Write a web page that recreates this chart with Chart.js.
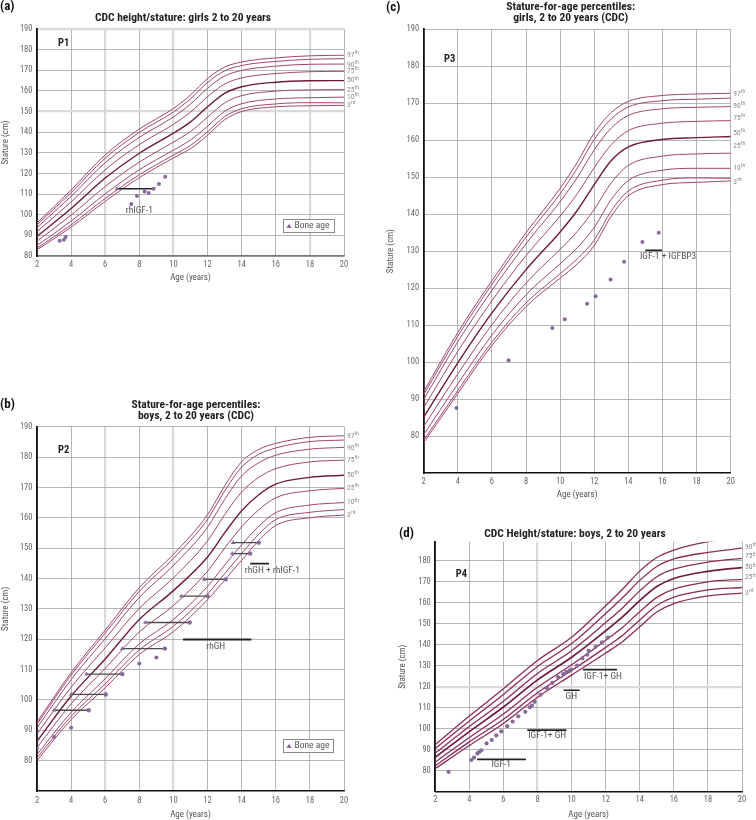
<!DOCTYPE html>
<html lang="en">
<head>
  <meta charset="utf-8">
  <title>Stature-for-age growth charts</title>
  <script src="https://cdn.jsdelivr.net/npm/chart.js@4.4.1/dist/chart.umd.min.js"></script>
  <style>
    body { margin: 0; background: #fff; width: 756px; height: 820px; position: relative; overflow: hidden; }
    .panel { position: absolute; }
  </style>
</head>
<body>
<div class="panel" style="left:0;top:0;width:378px;height:290px;"><canvas id="chartA"></canvas></div>
<div class="panel" style="left:0;top:380px;width:378px;height:440px;"><canvas id="chartB"></canvas></div>
<div class="panel" style="left:378px;top:0;width:378px;height:500px;"><canvas id="chartC"></canvas></div>
<div class="panel" style="left:378px;top:515px;width:378px;height:305px;"><canvas id="chartD"></canvas></div>
<script>
// ---- (a) CDC girls, patient P1 ----
var agesA = [2, 4, 6, 8, 10, 11, 12, 13, 14, 16, 18, 20];
var a97 = [96, 112, 129, 141.5, 151.5, 158, 166, 171.5, 174, 176, 177, 177.3];
var a95 = [95.1, 110.7, 127.4, 139.9, 149.8, 156.2, 164.1, 169.7, 172.3, 174.3, 175.3, 175.6];
var a90 = [93.8, 108.9, 125.2, 137.5, 147.4, 153.6, 161.3, 167.2, 169.9, 172, 172.9, 173];
var a75 = [91.8, 106.2, 121.8, 134, 143.8, 149.7, 157.2, 163.3, 166.3, 168.4, 169.3, 169.5];
var a50 = [89.5, 103, 117.8, 129.8, 139.5, 145, 152.3, 158.8, 162, 164.2, 164.9, 165];
var a25 = [87.2, 99.8, 113.7, 125.5, 135.2, 140.3, 147.3, 154.2, 157.7, 159.9, 160.5, 160.6];
var a10 = [85.1, 96.9, 110.1, 121.8, 131.3, 136.2, 142.9, 150.1, 153.8, 156.1, 156.7, 157];
var a05 = [83.8, 95.1, 107.9, 119.4, 128.9, 133.6, 140.2, 147.5, 151.4, 153.7, 154.3, 154.2];
var a03 = [83, 94, 106.5, 118, 127.5, 132, 138.5, 146, 150, 152.3, 152.8, 153];
var aDotAge = [3.33, 3.58, 3.68, 7.53, 7.86, 8.31, 8.55, 8.84, 9.15, 9.52];
var aDotH = [87.4, 87.9, 89.2, 105.2, 109.1, 111.2, 110.5, 112.6, 114.9, 118.4];
var aBoneAge = [6.69];
var aChronoAge = [8.84];
var aSegH = [112.6];

// ---- (b) CDC boys, patient P2 ----
var agesB = [2, 4, 6, 8, 10, 12, 13, 14, 15, 16, 18, 20];
var b97 = [92.7, 109, 123, 137, 148, 161, 170.5, 178.5, 182.5, 184.5, 186.5, 187];
var b95 = [92, 108.2, 122, 135.8, 146.6, 159.5, 168.8, 176.7, 180.9, 183, 185.1, 185.6];
var b90 = [90.8, 106.7, 120.2, 133.8, 144.3, 156.9, 166, 173.8, 178.1, 180.6, 182.6, 183.2];
var b75 = [88.8, 104.2, 117.2, 130.2, 140.2, 152.4, 161, 168.5, 173.3, 176.2, 178.4, 179];
var b50 = [86.4, 101.3, 113.5, 126.5, 136, 147.1, 155, 162.3, 167.6, 171.1, 173.3, 174];
var b25 = [84.3, 98.7, 110.4, 122.4, 131.1, 142.4, 150, 157, 162.6, 166.6, 168.9, 169.7];
var b10 = [82, 95.9, 107, 118.5, 126.5, 137.4, 144.4, 151.1, 157.2, 161.7, 164.2, 165];
var b05 = [80.9, 94.6, 105.3, 116.5, 124.3, 134.9, 141.6, 148.2, 154.6, 159.4, 161.8, 162.7];
var b03 = [80, 93.5, 104, 115, 122.5, 133, 139.5, 146, 152.5, 157.5, 160, 160.9];
var bDotAge = [2.0, 3.0, 4.0, 8.0, 9.0];
var bDotH = [84.0, 87.8, 90.8, 112.0, 114.0];
var bBoneAge = [3.0, 4.0, 4.9, 7.0, 8.35, 10.46, 11.8, 13.45, 13.5];
var bChronoAge = [5.03, 6.03, 7.0, 9.5, 10.95, 12.0, 13.06, 14.5, 15.0];
var bSegH = [96.6, 101.8, 108.5, 116.9, 125.5, 134.2, 139.7, 148.2, 151.8];
var bTxStart = [10.56, 14.5];
var bTxEnd = [14.57, 15.6];
var bTxH = [119.9, 144.9];

// ---- (c) CDC girls, patient P3 ----
var agesC = [2, 4, 6, 8, 10, 11, 12, 13, 14, 16, 18, 20];
var c97 = [92, 108, 122, 135, 147, 154, 162, 167.5, 170.5, 172.1, 172.5, 172.7];
var c95 = [91.2, 107, 121, 133.8, 145.5, 152.4, 160.2, 165.8, 169, 170.7, 171.1, 171.4];
var c90 = [89.9, 105.5, 119.4, 132, 143.4, 149.9, 157.4, 163.3, 166.7, 168.5, 168.9, 169.1];
var c75 = [87.7, 102.9, 116.6, 128.8, 139.5, 145.5, 152.6, 158.8, 162.6, 164.6, 165.1, 165.3];
var c50 = [85.1, 99.8, 113.3, 125, 135.2, 141, 148, 154.5, 158.2, 160.2, 160.7, 161];
var c25 = [82.6, 96.8, 110.1, 121.4, 130.5, 135.3, 141.3, 148.5, 153.2, 155.7, 156.3, 156.5];
var c10 = [80.4, 94.1, 107.3, 118.2, 126.6, 130.9, 136.4, 144, 149.1, 151.9, 152.4, 152.4];
var c05 = [78.9, 92.3, 105.4, 116, 123.9, 127.9, 133, 140.9, 146.3, 149.2, 149.8, 149.7];
var c03 = [78.2, 91.5, 104.5, 115, 122.7, 126.5, 131.5, 139.5, 145, 148, 148.6, 149];
var cDotAge = [3.92, 6.98, 9.54, 10.27, 11.58, 12.08, 12.96, 13.75, 14.82, 15.78];
var cDotH = [87.6, 100.5, 109.2, 111.6, 115.8, 117.8, 122.3, 127.1, 132.5, 135.0];
var cTxStart = [15.0];
var cTxEnd = [15.97];
var cTxH = [130.2];

// ---- (d) CDC boys, patient P4 ----
var agesD = [2, 4, 6, 8, 10, 12, 13, 14, 15, 16, 18, 20];
var d97 = [92.5, 106, 119, 132.5, 143.5, 158.5, 166.5, 175, 181.5, 185, 189, 191];
var d90 = [90.6, 103.7, 116.3, 129.6, 140.5, 154.8, 162.4, 170.6, 177.2, 180.8, 183.9, 185.9];
var d75 = [88.4, 101, 113.1, 126.3, 137.1, 150.5, 157.6, 165.6, 172.3, 175.9, 179.3, 181.1];
var d50 = [86.4, 98.6, 110.3, 123.2, 134, 146.6, 153.3, 161, 167.7, 171.5, 174.9, 176.7];
var d25 = [84.1, 95.8, 107, 119.7, 130.4, 142.1, 148.3, 155.7, 162.5, 166.4, 169.9, 171.1];
var d10 = [82.4, 93.7, 104.5, 117.1, 127.7, 138.7, 144.5, 151.7, 158.6, 162.6, 166.1, 167.2];
var d03 = [81, 92, 102.5, 115, 125.5, 136, 141.5, 148.5, 155.5, 159.5, 163.2, 164.5];
var dDotAge = [2.78, 4.11, 4.27, 4.47, 4.58, 4.70, 5.01, 5.31, 5.58, 5.87, 6.22, 6.54, 6.87, 7.28, 7.54, 7.67,
               7.83, 8.18, 8.55, 8.87, 9.20, 9.51, 9.69, 9.88, 9.98, 10.32, 10.63, 10.92, 11.00, 11.41, 11.78, 12.14];
var dDotH = [79.4, 85.1, 86.2, 88.2, 88.9, 89.7, 93.0, 94.6, 96.8, 98.7, 101.2, 103.4, 105.9, 108.0, 110.2, 111.0,
             112.8, 116.1, 119.4, 121.8, 124.6, 126.0, 127.0, 127.6, 128.1, 130.0, 133.5, 135.2, 137.1, 139.0, 141.1, 143.4];
var dTxStart = [4.45, 7.40, 9.53, 10.67];
var dTxEnd = [7.32, 9.69, 10.47, 12.66];
var dTxH = [85.4, 99.3, 118.3, 128.1];

var FONT = "'Liberation Sans Narrow', 'Roboto Condensed', Roboto, sans-serif";
var DOT = '#876a9c';
Chart.defaults.font.family = FONT;

function curves(ages, rows, names, color, width) {
  return rows.map(function (vals, i) {
    var mid = names[i] === '50';
    return {
      label: names[i],
      data: vals.map(function (v, j) { return { x: ages[j], y: v }; }),
      showLine: true,
      cubicInterpolationMode: 'monotone',
      borderColor: mid ? '#6f1a40' : color,
      borderWidth: mid ? width + 0.4 : width,
      pointRadius: 0,
      order: 5
    };
  });
}

function dots(ages, heights, r) {
  return {
    label: 'Stature',
    data: ages.map(function (a, i) { return { x: a, y: heights[i] }; }),
    pointRadius: r,
    pointBackgroundColor: DOT,
    pointBorderWidth: 0,
    order: 1
  };
}

// bone age (triangle) joined to chronological age (dot), or a plain treatment bar
function segments(starts, ends, heights, color, width, marks) {
  return starts.map(function (s, i) {
    return {
      label: 'segment',
      data: [{ x: s, y: heights[i] }, { x: ends[i], y: heights[i] }],
      showLine: true,
      borderColor: color,
      borderWidth: width,
      pointStyle: ['triangle', 'circle'],
      pointRadius: marks ? marks : 0,
      pointBackgroundColor: DOT,
      pointBorderWidth: 0,
      order: 2
    };
  });
}

function sup(n) { return n === '3' ? 'rd' : 'th'; }

function say(ctx, s, x, y, align) {
  ctx.textAlign = align;
  ctx.fillText(s, x, y);
}

var overlay = {
  id: 'overlay',
  afterDraw: function (chart, args, o) {
    var ctx = chart.ctx, ca = chart.chartArea;
    var xs = chart.scales.x, ys = chart.scales.y;
    ctx.save();
    ctx.textBaseline = 'middle';
    ctx.fillStyle = '#111';
    ctx.font = 'bold 13px ' + FONT;
    say(ctx, o.letter[0], o.letter[1], o.letter[2], 'left');
    ctx.fillStyle = '#222';
    ctx.font = 'bold 11.5px ' + FONT;
    o.title.forEach(function (t, i) { say(ctx, t, o.titleX, o.titleY + i * 11, 'center'); });
    ctx.font = 'bold 10.5px ' + FONT;
    say(ctx, o.patient[0], o.patient[1], o.patient[2], 'left');
    // percentile labels on the right
    ctx.fillStyle = '#8a8a8a';
    o.pctNames.forEach(function (n, i) {
      var x = ca.right + o.pctDX, y = ys.getPixelForValue(o.pctY[i]);
      ctx.font = '7.5px ' + FONT;
      say(ctx, n, x, y, 'left');
      var w = ctx.measureText(n).width;
      ctx.font = '5.5px ' + FONT;
      say(ctx, sup(n), x + w + 0.3, y - 2.4, 'left');
    });
    // notes under the treatment bars
    ctx.fillStyle = '#555';
    ctx.font = '9.5px ' + FONT;
    o.notes.forEach(function (nt) {
      say(ctx, nt[0], xs.getPixelForValue(nt[1]), ys.getPixelForValue(nt[2]), 'center');
    });
    // bone age legend box
    if (o.legend) {
      var b = o.legend;
      ctx.fillStyle = '#fff';
      ctx.fillRect(b[0], b[1], b[2], b[3]);
      ctx.strokeStyle = '#8a8a8a';
      ctx.lineWidth = 1;
      ctx.strokeRect(b[0] + 0.5, b[1] + 0.5, b[2], b[3]);
      var cy = b[1] + b[3] / 2 + 0.5;
      ctx.fillStyle = DOT;
      ctx.beginPath();
      ctx.moveTo(b[0] + 6, cy - 2.2);
      ctx.lineTo(b[0] + 8.5, cy + 2);
      ctx.lineTo(b[0] + 3.5, cy + 2);
      ctx.closePath();
      ctx.fill();
      ctx.fillStyle = '#555';
      ctx.font = '9.5px ' + FONT;
      say(ctx, 'Bone age', b[0] + 11.5, cy, 'left');
    }
    ctx.restore();
  }
};

function gridStyle(light) {
  return {
    drawTicks: false,
    color: function (c) { return light.indexOf(c.tick.value) >= 0 ? '#d9d9d9' : '#a3a3a3'; },
    lineWidth: function (c) { return light.indexOf(c.tick.value) >= 0 ? 2.2 : 0.8; }
  };
}

function makeChart(id, cfg) {
  return new Chart(document.getElementById(id), {
    type: 'scatter',
    data: { datasets: cfg.datasets },
    options: {
      responsive: true,
      maintainAspectRatio: false,
      animation: false,
      events: [],
      layout: { padding: { left: 0, top: cfg.top, right: cfg.right, bottom: 0 } },
      plugins: {
        legend: { display: false },
        tooltip: { enabled: false },
        overlay: cfg.overlay
      },
      scales: {
        x: {
          type: 'linear', min: 2, max: 20,
          afterFit: function (s) { s.height = cfg.xH; },
          grid: gridStyle(cfg.lightX),
          border: { color: cfg.xBorder, width: 1.4 },
          ticks: { stepSize: 2, autoSkip: false, maxRotation: 0, padding: cfg.xPad, color: '#666', font: { size: 8.5 } },
          title: { display: true, text: 'Age (years)', color: '#555', font: { size: 9 }, padding: { top: 0, bottom: cfg.xTitlePad } }
        },
        y: {
          type: 'linear', min: cfg.yMin, max: cfg.yMax,
          afterFit: function (s) { s.width = cfg.yW; },
          grid: gridStyle(cfg.lightY),
          border: { color: '#111', width: 1.8 },
          ticks: {
            stepSize: 10, autoSkip: false, padding: 4.5, color: '#666', font: { size: 8.5 },
            callback: function (v) { return (v < 80 || v > 190 || v % 10 !== 0) ? null : v; }
          },
          title: { display: true, text: 'Stature (cm)', color: '#555', font: { size: 9 }, padding: { top: cfg.yTitlePad, bottom: 0 } }
        }
      }
    },
    plugins: [overlay]
  });
}

var namesAll = ['97', '95', '90', '75', '50', '25', '10', '5', '3'];
var curveColor = '#a2466f';

makeChart('chartA', {
  top: 29, right: 34, xH: 34, yW: 37, yMin: 80, yMax: 190, xPad: 3.5, xTitlePad: 6.6, yTitlePad: 0,
  xBorder: '#777', lightX: [6, 10, 18], lightY: [150, 190],
  datasets: curves(agesA, [a97, a95, a90, a75, a50, a25, a10, a05, a03], namesAll, curveColor, 1)
    .concat(segments(aBoneAge, aChronoAge, aSegH, '#222', 1.5, [2.6, 0]))
    .concat([dots(aDotAge, aDotH, 2)]),
  overlay: {
    letter: ['(a)', 0, 6.5],
    title: ['CDC height/stature: girls 2 to 20 years'], titleX: 183, titleY: 18,
    patient: ['P1', 58, 43],
    pctNames: ['97', '90', '75', '50', '25', '10', '3'],
    pctY: [177.3, 172.7, 169.4, 165, 160.6, 157, 153],
    pctDX: 3,
    notes: [['rhIGF-1', 8.0, 102.1]],
    legend: [283, 219, 51, 13]
  }
});

makeChart('chartB', {
  top: 46.7, right: 34, xH: 29, yW: 37, yMin: 70, yMax: 190, xPad: 4.5, xTitlePad: 0.3, yTitlePad: 0,
  xBorder: '#111', lightX: [6, 10], lightY: [],
  datasets: curves(agesB, [b97, b95, b90, b75, b50, b25, b10, b05, b03], namesAll, curveColor, 1)
    .concat(segments(bBoneAge, bChronoAge, bSegH, '#4a4a4a', 1.3, [2.6, 2.2]))
    .concat(segments(bTxStart, bTxEnd, bTxH, '#222', 1.8, null))
    .concat([dots(bDotAge, bDotH, 2)]),
  overlay: {
    letter: ['(b)', 0, 24.5],
    title: ['Stature-for-age percentiles:', 'boys, 2 to 20 years (CDC)'], titleX: 196, titleY: 25,
    patient: ['P2', 58, 70],
    pctNames: ['97', '90', '75', '50', '25', '10', '3'],
    pctY: [186.9, 182.9, 179, 174, 169.7, 165, 160.9],
    pctDX: 3,
    notes: [['rhGH', 12.48, 117.5], ['rhGH + rhIGF-1', 15.8, 142.7]],
    legend: [283, 359, 50, 13]
  }
});

makeChart('chartC', {
  top: 29.3, right: 25.3, xH: 27, yW: 45.7, yMin: 70, yMax: 190, xPad: 3.5, xTitlePad: 0, yTitlePad: 7.6,
  xBorder: '#111', lightX: [], lightY: [],
  datasets: curves(agesC, [c97, c95, c90, c75, c50, c25, c10, c05, c03], namesAll, curveColor, 1)
    .concat(segments(cTxStart, cTxEnd, cTxH, '#222', 1.8, null))
    .concat([dots(cDotAge, cDotH, 2)]),
  overlay: {
    letter: ['(c)', 8, 7.5],
    title: ['Stature-for-age percentiles:', 'girls, 2 to 20 years (CDC)'], titleX: 192.7, titleY: 7.5,
    patient: ['P3', 66, 59],
    pctNames: ['97', '90', '75', '50', '25', '10', '3'],
    pctY: [172.4, 169.3, 165.9, 161.9, 158.3, 152.4, 148.8],
    pctDX: 2.5,
    notes: [['IGF-1 + IGFBP3', 16.33, 128.4]],
    legend: null
  }
});

makeChart('chartD', {
  top: 26.7, right: 14, xH: 28.3, yW: 57.3, yMin: 70, yMax: 189, xPad: 3, xTitlePad: 0.3, yTitlePad: 19.6,
  xBorder: '#111', lightX: [8], lightY: [120],
  datasets: curves(agesD, [d97, d90, d75, d50, d25, d10, d03], ['97', '90', '75', '50', '25', '10', '3'], '#8e2c58', 1.3)
    .concat(segments(dTxStart, dTxEnd, dTxH, '#222', 1.6, null))
    .concat([dots(dDotAge, dDotH, 2.1)]),
  overlay: {
    letter: ['(d)', 21, 19],
    title: ['CDC Height/stature: boys, 2 to 20 years'], titleX: 197, titleY: 19,
    patient: ['P4', 77.7, 59],
    pctNames: ['90', '75', '50', '25', '3'],
    pctY: [186.3, 181.9, 176.7, 171.9, 164.5],
    pctDX: 3,
    notes: [['IGF-1', 5.87, 82.7], ['IGF-1+ GH', 8.57, 96.5], ['GH', 9.98, 115.1], ['IGF-1+ GH', 11.84, 124.9]],
    legend: null
  }
});
</script>
</body>
</html>
